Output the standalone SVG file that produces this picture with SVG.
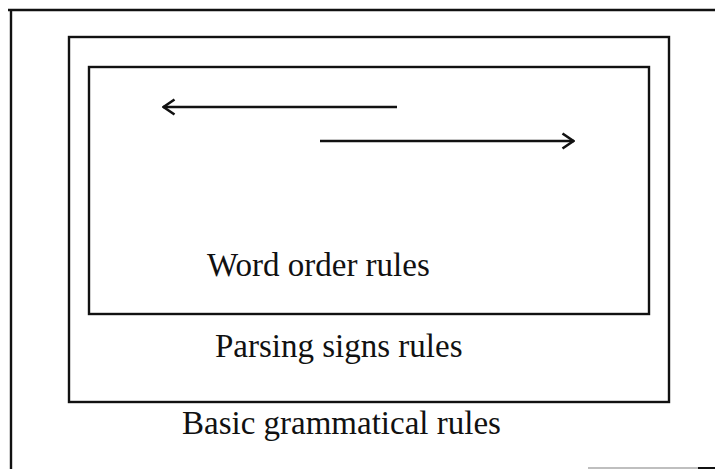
<svg xmlns="http://www.w3.org/2000/svg" width="715" height="469" viewBox="0 0 715 469">
<style>
.box{fill:none;stroke:#111;stroke-width:2.4}
.lbl{font-family:"Liberation Serif","Times New Roman",serif;font-size:33px;fill:#111}
.conn{stroke:#111;stroke-width:2.4;fill:none}
</style>
<defs>
<marker id="arr" viewBox="0 0 14 18" refX="13" refY="9" markerWidth="14" markerHeight="18" markerUnits="userSpaceOnUse" orient="auto">
<path d="M1.5,1.5 L12.5,9 L1.5,16.5" fill="none" stroke="#111" stroke-width="2.6"/>
</marker>
</defs>
<rect width="715" height="469" fill="#fff"/>
<g id="basic">
<path class="box" d="M8,10 L715,10 M11,10 L11,469"/>
<path d="M588,468 L700,468" stroke="#aaa" stroke-width="1.5"/>
<path d="M698,468 L715,468" stroke="#111" stroke-width="2"/>
<text class="lbl" x="182" y="434">Basic grammatical rules</text>
</g>
<g id="parsing">
<rect class="box" x="69" y="37" width="600" height="365"/>
<text class="lbl" x="215" y="357">Parsing signs rules</text>
</g>
<g id="wordorder">
<rect class="box" x="89" y="67" width="560" height="247"/>
<text class="lbl" x="207" y="276">Word order rules</text>
</g>
<g id="connectors">
<line class="conn" x1="397" y1="107" x2="163" y2="107" marker-end="url(#arr)"/>
<line class="conn" x1="320" y1="141" x2="574" y2="141" marker-end="url(#arr)"/>
</g>
</svg>
